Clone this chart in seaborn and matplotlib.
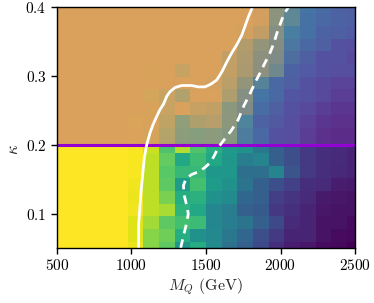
import numpy as np
import matplotlib
matplotlib.use("Agg")
import matplotlib.pyplot as plt
from matplotlib.colors import LinearSegmentedColormap
import seaborn as sns

# --- scan grid (20 x 20) ---
mass = np.linspace(500, 2500, 20)      # M_Q grid points (GeV)
kappa = np.linspace(0.05, 0.4, 20)     # kappa grid points
kappa_cut = 0.2

# viridis values for kappa < 0.2 (rows bottom -> top)
z_low = [
    [1.00, 1.00, 1.00, 1.00, 1.00, 0.97, 0.82, 0.75, 0.52, 0.62, 0.48, 0.37, 0.30, 0.22, 0.13, 0.08, 0.06, 0.03, 0.02, 0.00],
    [1.00, 1.00, 1.00, 1.00, 1.00, 0.95, 0.82, 0.78, 0.62, 0.50, 0.47, 0.40, 0.33, 0.24, 0.17, 0.10, 0.10, 0.05, 0.03, 0.02],
    [1.00, 1.00, 1.00, 1.00, 1.00, 0.95, 0.86, 0.75, 0.70, 0.68, 0.46, 0.42, 0.38, 0.30, 0.22, 0.12, 0.10, 0.05, 0.05, 0.03],
    [1.00, 1.00, 1.00, 1.00, 1.00, 0.98, 0.90, 0.87, 0.65, 0.60, 0.46, 0.42, 0.30, 0.28, 0.16, 0.14, 0.10, 0.06, 0.05, 0.05],
    [1.00, 1.00, 1.00, 1.00, 1.00, 0.97, 0.90, 0.80, 0.62, 0.64, 0.50, 0.48, 0.33, 0.30, 0.18, 0.15, 0.12, 0.07, 0.06, 0.05],
    [1.00, 1.00, 1.00, 1.00, 1.00, 0.98, 0.90, 0.75, 0.55, 0.70, 0.55, 0.50, 0.38, 0.30, 0.24, 0.19, 0.13, 0.12, 0.08, 0.07],
    [1.00, 1.00, 1.00, 1.00, 1.00, 0.99, 0.90, 0.74, 0.67, 0.67, 0.53, 0.53, 0.36, 0.36, 0.45, 0.26, 0.17, 0.13, 0.11, 0.10],
    [1.00, 1.00, 1.00, 1.00, 1.00, 0.99, 0.90, 0.76, 0.60, 0.69, 0.60, 0.53, 0.42, 0.45, 0.30, 0.24, 0.17, 0.13, 0.12, 0.10],
    [1.00, 1.00, 1.00, 1.00, 1.00, 0.99, 0.92, 0.72, 0.88, 0.72, 0.63, 0.55, 0.50, 0.40, 0.30, 0.24, 0.17, 0.13, 0.12, 0.10],
]

# viridis values for kappa > 0.2
z_high = [
    [1.00, 1.00, 1.00, 1.00, 1.00, 0.98, 0.90, 0.72, 0.60, 0.62, 0.58, 0.55, 0.42, 0.33, 0.22, 0.20, 0.13, 0.08, 0.06, 0.06],
    [1.00, 1.00, 1.00, 1.00, 1.00, 0.98, 0.90, 0.72, 0.62, 0.62, 0.58, 0.55, 0.48, 0.30, 0.25, 0.20, 0.15, 0.10, 0.08, 0.08],
    [1.00, 1.00, 1.00, 1.00, 1.00, 0.98, 0.90, 0.75, 0.65, 0.62, 0.60, 0.55, 0.45, 0.35, 0.28, 0.22, 0.18, 0.13, 0.10, 0.10],
    [1.00, 1.00, 1.00, 1.00, 1.00, 0.98, 0.90, 0.75, 0.65, 0.65, 0.60, 0.60, 0.48, 0.40, 0.33, 0.24, 0.22, 0.18, 0.13, 0.13],
    [1.00, 1.00, 1.00, 1.00, 1.00, 1.00, 0.92, 0.78, 0.68, 0.65, 0.62, 0.60, 0.50, 0.45, 0.33, 0.28, 0.22, 0.18, 0.16, 0.16],
    [1.00, 1.00, 1.00, 1.00, 1.00, 1.00, 0.92, 0.80, 0.70, 0.68, 0.62, 0.60, 0.50, 0.45, 0.45, 0.30, 0.26, 0.22, 0.20, 0.20],
    [1.00, 1.00, 1.00, 1.00, 1.00, 1.00, 0.94, 0.82, 0.72, 0.70, 0.65, 0.62, 0.52, 0.45, 0.45, 0.35, 0.28, 0.22, 0.22, 0.18],
    [1.00, 1.00, 1.00, 1.00, 1.00, 1.00, 0.95, 0.85, 0.75, 0.72, 0.68, 0.62, 0.55, 0.50, 0.45, 0.40, 0.33, 0.28, 0.22, 0.20],
    [1.00, 1.00, 1.00, 1.00, 1.00, 1.00, 0.95, 0.88, 0.78, 0.75, 0.70, 0.65, 0.58, 0.50, 0.48, 0.45, 0.38, 0.30, 0.28, 0.26],
    [1.00, 1.00, 1.00, 1.00, 1.00, 1.00, 0.96, 0.90, 0.80, 0.78, 0.72, 0.68, 0.60, 0.52, 0.50, 0.48, 0.38, 0.33, 0.30, 0.28],
    [1.00, 1.00, 1.00, 1.00, 1.00, 1.00, 0.96, 0.90, 0.80, 0.78, 0.72, 0.68, 0.60, 0.52, 0.50, 0.48, 0.40, 0.34, 0.30, 0.28],
]

# opacity of the orange exclusion layer for kappa > 0.2
excl = [
    [1, 1, 1, 1, 1, 0.95, 0.88, 0.70, 0.50, 0.45, 0.50, 0.45, 0.08, 0, 0, 0, 0, 0, 0, 0],
    [1, 1, 1, 1, 1, 0.92, 0.95, 0.78, 0.50, 0.72, 0.78, 0.50, 0.10, 0, 0, 0, 0, 0, 0, 0],
    [1, 1, 1, 1, 1, 1.00, 0.97, 0.85, 1.00, 0.88, 0.85, 0.50, 0.40, 0, 0, 0, 0, 0, 0, 0],
    [1, 1, 1, 1, 1, 1.00, 0.85, 0.85, 0.72, 1.00, 1.00, 0.72, 0.45, 0, 0, 0, 0, 0, 0, 0],
    [1, 1, 1, 1, 1, 1.00, 1.00, 1.00, 1.00, 1.00, 0.95, 0.80, 0.55, 0.15, 0, 0, 0, 0, 0, 0],
    [1, 1, 1, 1, 1, 1.00, 0.95, 1.00, 0.85, 1.00, 1.00, 0.85, 0.70, 0.50, 0.30, 0, 0, 0, 0, 0],
    [1, 1, 1, 1, 1, 1.00, 1.00, 1.00, 1.00, 1.00, 1.00, 0.85, 0.72, 0.50, 0.40, 0.05, 0, 0, 0, 0],
    [1, 1, 1, 1, 1, 1.00, 1.00, 1.00, 1.00, 1.00, 1.00, 1.00, 0.75, 0.55, 0.45, 0.05, 0, 0, 0, 0],
    [1, 1, 1, 1, 1, 1.00, 1.00, 1.00, 1.00, 1.00, 1.00, 1.00, 0.95, 0.85, 0.45, 0.05, 0, 0, 0, 0],
    [1, 1, 1, 1, 1, 1.00, 1.00, 1.00, 1.00, 1.00, 1.00, 1.00, 1.00, 0.95, 0.50, 0.20, 0, 0, 0, 0],
    [1, 1, 1, 1, 1, 1.00, 1.00, 1.00, 1.00, 1.00, 1.00, 1.00, 1.00, 0.95, 0.50, 0.20, 0, 0, 0, 0],
]

# contour lines (solid and dashed)
solid_m = [1048, 1048, 1064, 1086, 1101, 1124, 1144, 1169, 1191, 1215, 1236, 1258, 1292, 1337,
           1404, 1446, 1493, 1533, 1572, 1607, 1639, 1672, 1706, 1740, 1765, 1785, 1812]
solid_k = [0.050, 0.084, 0.132, 0.181, 0.199, 0.217, 0.229, 0.241, 0.251, 0.259, 0.270, 0.277, 0.283, 0.286,
           0.286, 0.284, 0.284, 0.288, 0.294, 0.306, 0.320, 0.333, 0.345, 0.359, 0.374, 0.386, 0.400]
dash_m = [1330, 1348, 1370, 1381, 1369, 1352, 1349, 1366, 1406, 1453, 1493, 1533, 1560, 1582,
          1621, 1668, 1715, 1755, 1795, 1829, 1862, 1896, 1929, 1956, 1976, 2003, 2023, 2054]
dash_k = [0.050, 0.067, 0.086, 0.100, 0.113, 0.128, 0.141, 0.151, 0.157, 0.161, 0.167, 0.175, 0.186, 0.196,
          0.207, 0.220, 0.236, 0.257, 0.274, 0.290, 0.304, 0.319, 0.333, 0.348, 0.362, 0.378, 0.390, 0.400]

sns.set_style("ticks")
plt.rcParams["font.family"] = "serif"
plt.rcParams["font.serif"] = ["cmr10"]
plt.rcParams["mathtext.fontset"] = "cm"
plt.rcParams["axes.formatter.use_mathtext"] = True

fig = plt.figure(figsize=(3.74, 3.03), dpi=100)
ax = fig.add_axes([0.1524, 0.1815, 0.7968, 0.7954])

n_low = len(z_low)
# cell edges of the grid
dm = mass[1] - mass[0]
m_edges = np.concatenate([[mass[0] - dm / 2], (mass[:-1] + mass[1:]) / 2, [mass[-1] + dm / 2]])
k_hi = kappa[n_low:]
dk = kappa[1] - kappa[0]
k_edges_hi = np.concatenate([[kappa_cut], (k_hi[:-1] + k_hi[1:]) / 2, [k_hi[-1] + dk / 2]])

ax.pcolormesh(mass, kappa[:n_low], np.array(z_low), cmap="viridis", vmin=0, vmax=1,
              shading="nearest", antialiased=False, linewidth=0)
ax.pcolormesh(m_edges, k_edges_hi, np.array(z_high), cmap="viridis", vmin=0, vmax=1,
              shading="flat", antialiased=False, linewidth=0)
# light violet wash above the kappa cut
ax.axhspan(kappa_cut, 0.45, color=(0.59, 0.43, 0.9), alpha=0.25, lw=0)
# orange exclusion layer
orange = (0.855, 0.63, 0.36)
ov_cmap = LinearSegmentedColormap.from_list("ov", [orange + (0.0,), orange + (1.0,)])
ax.pcolormesh(m_edges, k_edges_hi, np.array(excl), cmap=ov_cmap, vmin=0, vmax=1,
              shading="flat", antialiased=False, linewidth=0)

ax.axhline(kappa_cut, color="#9400D3", lw=2.2)

sns.lineplot(x=solid_m, y=solid_k, sort=False, estimator=None, color="white", lw=2.0, ax=ax)
sns.lineplot(x=dash_m, y=dash_k, sort=False, estimator=None, color="white", lw=2.0, ax=ax,
             linestyle=(0, (3.2, 2.2)))

ax.set_xlim(500, 2500)
ax.set_ylim(0.05, 0.4)
ax.set_xticks([500, 1000, 1500, 2000, 2500])
ax.set_yticks([0.1, 0.2, 0.3, 0.4])
ax.tick_params(labelsize=11, length=4, width=1, colors="black")
for s in ax.spines.values():
    s.set_visible(True)
    s.set_color("black")
    s.set_linewidth(1.0)
ax.set_xlabel(r"$M_Q$ (GeV)", fontsize=11.5, labelpad=2)
ax.set_ylabel(r"$\kappa$", fontsize=12)
ax.yaxis.set_label_coords(-0.12, 0.41)

fig.savefig("out.png", dpi=100)
